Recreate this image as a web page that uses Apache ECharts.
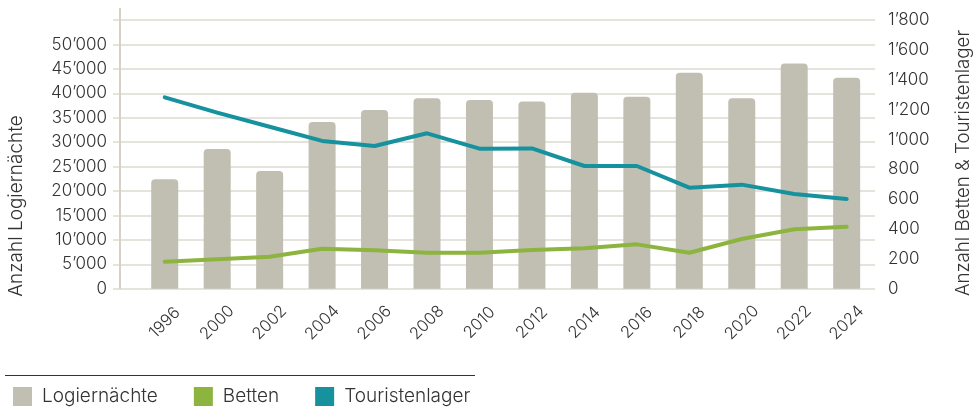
<!DOCTYPE html>
<html>
<head>
<meta charset="utf-8">
<script src="https://cdn.jsdelivr.net/npm/echarts@6/dist/echarts.min.js"></script>
<style>
  html, body { margin: 0; padding: 0; background: #fff; }
  #chart { width: 979px; height: 414px; }
</style>
</head>
<body>
<div id="chart"></div>
<script>
const years = ['1996', '2000', '2002', '2004', '2006', '2008', '2010', '2012', '2014', '2016', '2018', '2020', '2022', '2024'];
const logiernaechte = [22400, 28600, 24100, 34100, 36600, 39000, 38600, 38300, 40100, 39300, 44200, 39000, 46100, 43200];
const betten = [181, 197, 214, 268, 257, 241, 241, 259, 271, 297, 241, 333, 398, 415];
const touristenlager = [1282, 1180, 1085, 990, 956, 1041, 938, 940, 822, 822, 677, 697, 634, 601];

const fontFamily = 'Inter, "Open Sans", sans-serif';
const textColor = '#333';
const gridColor = '#dddbd0';

const chart = echarts.init(document.getElementById('chart'));

function fmt(v) {
    return String(v).replace(/\B(?=(\d{3})+(?!\d))/g, '\u2019');
}

const option = {
    backgroundColor: '#fff',
    animation: false,
    grid: [
        // axis frame with grid lines
        { left: 120, right: 104, top: 20, bottom: 125.3 },
        // categories: bars and lines
        { left: 138.5, right: 106.1, top: 20, bottom: 125.3 }
    ],
    xAxis: [
        { gridIndex: 0, type: 'category', data: years, show: false },
        {
            gridIndex: 1,
            type: 'category',
            data: years,
            axisLine: { show: false },
            axisTick: { show: false },
            axisLabel: {
                rotate: 45,
                align: 'center',
                verticalAlign: 'middle',
                margin: 34,
                interval: 0,
                color: textColor,
                fontSize: 16.5,
                fontWeight: 300,
                fontFamily: fontFamily
            }
        }
    ],
    yAxis: [
        {
            gridIndex: 0,
            type: 'value',
            min: 0,
            max: 55000,
            interval: 5000,
            axisLine: { show: false },
            axisTick: { show: true, inside: false, length: 7, lineStyle: { color: gridColor, width: 1.5 } },
            splitLine: { lineStyle: { color: gridColor, width: 1.5 } },
            axisLabel: {
                margin: 13,
                color: textColor,
                fontSize: 17,
                fontWeight: 300,
                fontFamily: fontFamily,
                formatter: v => (v > 50000 ? '' : fmt(v))
            }
        },
        {
            gridIndex: 0,
            type: 'value',
            position: 'right',
            min: 0,
            max: 1800,
            interval: 200,
            axisLine: { show: false },
            axisTick: { show: false },
            splitLine: { show: false },
            axisLabel: {
                margin: 13,
                color: textColor,
                fontSize: 17,
                fontWeight: 300,
                fontFamily: fontFamily,
                formatter: v => fmt(v)
            }
        },
        { gridIndex: 1, type: 'value', min: 0, max: 55000, show: false },
        { gridIndex: 1, type: 'value', min: 0, max: 1800, show: false }
    ],
    legend: {
        left: 13,
        top: 387,
        padding: 0,
        itemWidth: 19,
        itemHeight: 19,
        itemGap: 36,
        icon: 'rect',
        textStyle: {
            color: textColor,
            fontSize: 19,
            fontWeight: 300,
            fontFamily: fontFamily,
            padding: [0, 0, 0, 5]
        },
        data: ['Logiernächte', 'Betten', 'Touristenlager']
    },
    graphic: [
        {
            type: 'line',
            shape: { x1: 120, y1: 8, x2: 120, y2: 289 },
            style: { stroke: '#d6d3c6', lineWidth: 2 },
            z: 10
        },
        {
            type: 'line',
            shape: { x1: 5, y1: 375.5, x2: 475, y2: 375.5 },
            style: { stroke: '#333', lineWidth: 1 }
        },
        {
            type: 'text',
            x: 16.5,
            y: 206,
            rotation: Math.PI / 2,
            style: {
                text: 'Anzahl Logiernächte',
                fill: textColor,
                fontSize: 19,
                fontWeight: 300,
                fontFamily: fontFamily,
                textAlign: 'center',
                textVerticalAlign: 'middle'
            }
        },
        {
            type: 'text',
            x: 963,
            y: 163,
            rotation: Math.PI / 2,
            style: {
                text: 'Anzahl Betten & Touristenlager',
                fill: textColor,
                fontSize: 18.7,
                fontWeight: 300,
                fontFamily: fontFamily,
                textAlign: 'center',
                textVerticalAlign: 'middle'
            }
        }
    ],
    series: [
        {
            name: 'Logiernächte',
            type: 'bar',
            xAxisIndex: 1,
            yAxisIndex: 2,
            barWidth: 27,
            itemStyle: { color: '#c1bfb2', borderRadius: [4, 4, 0, 0] },
            data: logiernaechte
        },
        {
            name: 'Betten',
            type: 'line',
            xAxisIndex: 1,
            yAxisIndex: 3,
            symbol: 'none',
            color: '#8cb43f',
            lineStyle: { width: 4, cap: 'round', join: 'round' },
            data: betten
        },
        {
            name: 'Touristenlager',
            type: 'line',
            xAxisIndex: 1,
            yAxisIndex: 3,
            symbol: 'none',
            color: '#15929e',
            lineStyle: { width: 4, cap: 'round', join: 'round' },
            data: touristenlager
        }
    ]
};

chart.setOption(option);
</script>
</body>
</html>
